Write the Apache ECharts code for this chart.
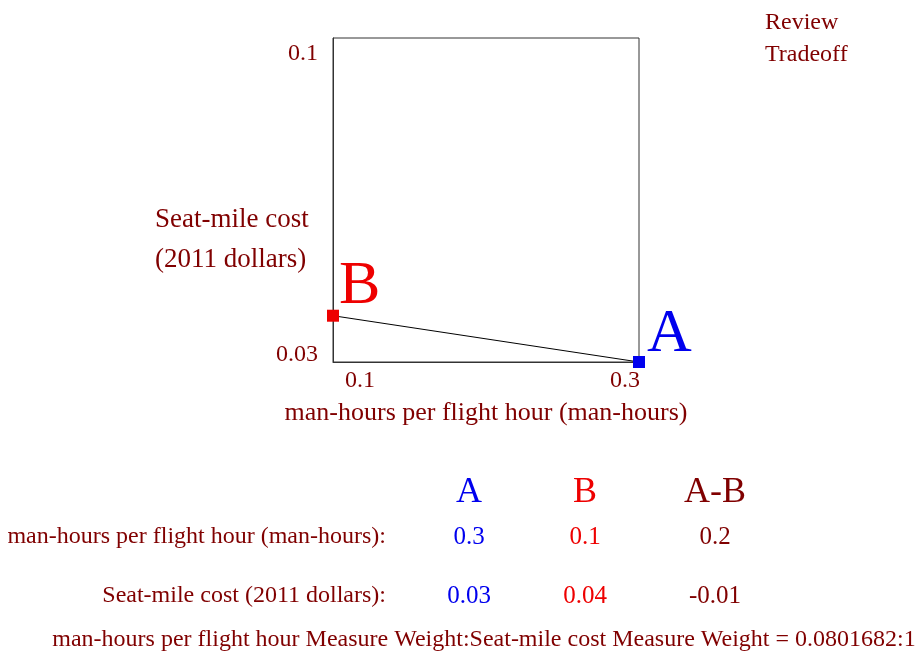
<!DOCTYPE html>
<html>
<head>
<meta charset="utf-8">
<script src="https://cdn.jsdelivr.net/npm/echarts@6/dist/echarts.min.js"></script>
<style>
  html, body { margin: 0; padding: 0; background: #ffffff; }
  #chart { width: 921px; height: 655px; }
</style>
</head>
<body>
<div id="chart"></div>
<script>
// Alternatives being compared
const altNames = ['A', 'B'];
const manHours = [0.3, 0.1];          // man-hours per flight hour
const seatMileCost = [0.03, 0.04];    // seat-mile cost, 2011 dollars
const altColors = ['#0000ee', '#ee0000'];

// Axis ranges and tick labels
const xTicks = [0.1, 0.3];
const yTicks = [0.03, 0.1];

const xName = 'man-hours per flight hour (man-hours)';
const yName = ['Seat-mile cost', '(2011 dollars)'];
const weightRatio = '0.0801682:1';

const DARK = '#800000';
const FONT = '"Liberation Serif", "Times New Roman", serif';

const fmt = v => String(Number(v.toPrecision(6)));

const chart = echarts.init(document.getElementById('chart'), null, { renderer: 'canvas' });

// Trade-off line from B to A with labelled end points
const pointData = altNames.map((n, i) => ({
  value: [manHours[i], seatMileCost[i]],
  name: n,
  itemStyle: { color: altColors[i] },
  label: {
    show: true,
    formatter: n,
    position: 'right',
    color: altColors[i],
    fontFamily: FONT,
    fontSize: 62,
    offset: n === 'A' ? [-3, -27] : [-5, -29]
  }
})).reverse();

// Comparison table below the plot
const colX = [469, 585, 715];
const headerY = 493, row1Y = 537, row2Y = 596;
const diffX = manHours[0] - manHours[1];
const diffY = seatMileCost[0] - seatMileCost[1];
const tableGraphics = [];
const headers = [altNames[0], altNames[1], altNames[0] + '-' + altNames[1]];
const headColors = [altColors[0], altColors[1], DARK];
const row1 = [fmt(manHours[0]), fmt(manHours[1]), fmt(diffX)];
const row2 = [fmt(seatMileCost[0]), fmt(seatMileCost[1]), fmt(diffY)];
for (let i = 0; i < 3; i++) {
  tableGraphics.push({ type: 'text', x: colX[i], y: headerY,
    style: { text: headers[i], fill: headColors[i], font: '36px ' + FONT, textAlign: 'center', textVerticalAlign: 'middle' } });
  tableGraphics.push({ type: 'text', x: colX[i], y: row1Y,
    style: { text: row1[i], fill: headColors[i], font: '25px ' + FONT, textAlign: 'center', textVerticalAlign: 'middle' } });
  tableGraphics.push({ type: 'text', x: colX[i], y: row2Y,
    style: { text: row2[i], fill: headColors[i], font: '25px ' + FONT, textAlign: 'center', textVerticalAlign: 'middle' } });
}
tableGraphics.push({ type: 'text', x: 386, y: row1Y,
  style: { text: xName + ':', fill: DARK, font: '24px ' + FONT, textAlign: 'right', textVerticalAlign: 'middle' } });
tableGraphics.push({ type: 'text', x: 386, y: row2Y,
  style: { text: yName.join(' ') + ':', fill: DARK, font: '24px ' + FONT, textAlign: 'right', textVerticalAlign: 'middle' } });
tableGraphics.push({ type: 'text', x: 484, y: 640,
  style: { text: 'man-hours per flight hour Measure Weight:Seat-mile cost Measure Weight = ' + weightRatio,
    fill: DARK, font: '24px ' + FONT, textAlign: 'center', textVerticalAlign: 'middle' } });

const option = {
  backgroundColor: '#ffffff',
  animation: false,
  grid: {
    left: 333, top: 38, width: 306, height: 324,
    show: true, borderColor: '#333333', borderWidth: 1, backgroundColor: 'transparent'
  },
  xAxis: {
    type: 'value',
    min: xTicks[0], max: xTicks[xTicks.length - 1],
    name: xName,
    nameLocation: 'middle',
    nameGap: 38,
    nameTextStyle: { color: DARK, fontFamily: FONT, fontSize: 26 },
    axisLine: { show: true, onZero: false, lineStyle: { color: '#333333', width: 1 } },
    axisTick: { show: false },
    splitLine: { show: false },
    axisLabel: {
      customValues: xTicks,
      margin: 7,
      color: DARK, fontFamily: FONT, fontSize: 24,
      formatter: v => (v === xTicks[0] ? '{lo|' + fmt(v) + '}' : '{hi|' + fmt(v) + '}'),
      rich: {
        lo: { color: DARK, fontFamily: FONT, fontSize: 24, padding: [0, 0, 0, 54] },
        hi: { color: DARK, fontFamily: FONT, fontSize: 24, padding: [0, 28, 0, 0] }
      }
    }
  },
  yAxis: {
    type: 'value',
    min: yTicks[0], max: yTicks[yTicks.length - 1],
    axisLine: { show: true, onZero: false, lineStyle: { color: '#333333', width: 1 } },
    axisTick: { show: false },
    splitLine: { show: false },
    axisLabel: {
      customValues: yTicks,
      margin: 15,
      color: DARK, fontFamily: FONT, fontSize: 24,
      formatter: v => (v === yTicks[0] ? '{lo|' + fmt(v) + '}' : '{hi|' + fmt(v) + '}'),
      rich: {
        lo: { color: DARK, fontFamily: FONT, fontSize: 24, padding: [0, 0, 14, 0] },
        hi: { color: DARK, fontFamily: FONT, fontSize: 24, padding: [32, 0, 0, 0] }
      }
    }
  },
  graphic: [
    { type: 'text', left: 765, top: 7,
      style: { text: 'Review\nTradeoff', fill: DARK, font: '24px ' + FONT, lineHeight: 32 } },
    { type: 'text', left: 155, top: 200,
      style: { text: yName.join('\n'), fill: DARK, font: '27px ' + FONT, lineHeight: 40 } },
    ...tableGraphics
  ],
  series: [{
    type: 'line',
    data: pointData,
    symbol: 'rect',
    symbolSize: 12,
    clip: false,
    lineStyle: { color: '#000000', width: 1 },
    emphasis: { disabled: true }
  }]
};

chart.setOption(option);
</script>
</body>
</html>
